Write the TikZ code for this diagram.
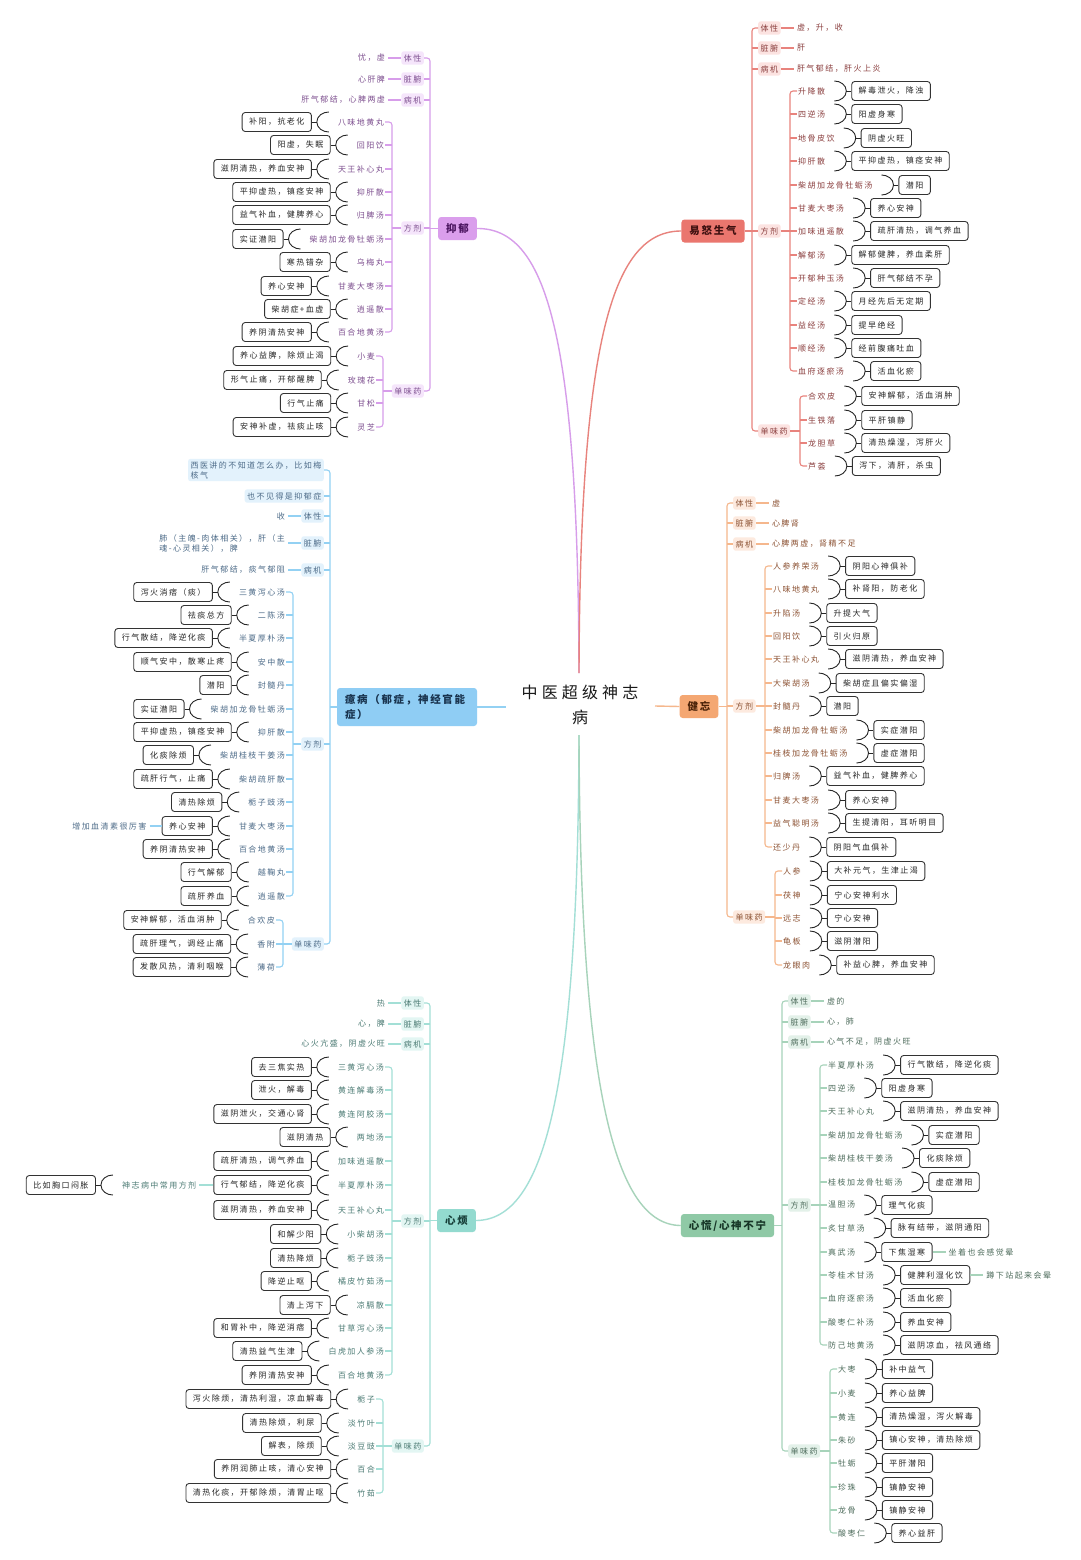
\documentclass[tikz,border=0pt]{standalone}
\usepackage{fontspec}
\setmainfont{Noto Sans CJK SC}
\newfontfamily\cjk[LetterSpace=18]{Noto Sans CJK SC}
\newfontfamily\cjkm[LetterSpace=16]{Noto Sans CJK SC}
\newfontfamily\cjkt[LetterSpace=26]{Noto Sans CJK SC}
% branch colours: L line, M main fill, F label fill, T text, D main text
\definecolor{aL}{HTML}{D79DEA}\definecolor{aM}{HTML}{DA9EEC}\definecolor{aF}{HTML}{F5E5FB}\definecolor{aT}{HTML}{7D4F8F}\definecolor{aD}{HTML}{4B1560}
\definecolor{bL}{HTML}{E8837D}\definecolor{bM}{HTML}{EA766E}\definecolor{bF}{HTML}{FCE3E1}\definecolor{bT}{HTML}{8A3E3E}\definecolor{bD}{HTML}{3D0F0F}
\definecolor{cL}{HTML}{93D1F3}\definecolor{cM}{HTML}{8FCDF4}\definecolor{cF}{HTML}{E3F2FC}\definecolor{cT}{HTML}{4D6B88}\definecolor{cD}{HTML}{18324D}
\definecolor{dL}{HTML}{F5B78D}\definecolor{dM}{HTML}{F4A772}\definecolor{dF}{HTML}{FDEADF}\definecolor{dT}{HTML}{8C5233}\definecolor{dD}{HTML}{4A2208}
\definecolor{eL}{HTML}{A3DFD6}\definecolor{eM}{HTML}{93DACF}\definecolor{eF}{HTML}{E3F6F3}\definecolor{eT}{HTML}{4C7B74}\definecolor{eD}{HTML}{173F39}
\definecolor{gL}{HTML}{A7D3BA}\definecolor{gM}{HTML}{8FC9A6}\definecolor{gF}{HTML}{E3F1E9}\definecolor{gT}{HTML}{4E6C5C}\definecolor{gD}{HTML}{163526}
\tikzset{
  sm/.style={font=\cjk\fontsize{8}{10}\selectfont},
  leaf/.style={sm, text=#1T, inner sep=1pt},
  lab/.style={sm, text=#1T, fill=#1F, rounded corners=2.5pt, inner xsep=2.5pt, inner ysep=3pt},
  ln/.style={draw=#1L, line width=1.1pt},
  desc/.style={sm, text=black!85, draw=black!80, line width=0.9pt, rounded corners=3pt, inner xsep=7pt, inner ysep=0pt, minimum height=19pt},
  brc/.style={draw=black!85, line width=0.9pt},
  mainb/.style={font=\cjkm\fontsize{10.5}{15}\selectfont\bfseries, text=#1D, fill=#1M, rounded corners=3pt, inner xsep=8pt, inner ysep=0pt, minimum height=23pt},
  ttl/.style={font=\cjkt\fontsize{16}{25}\selectfont, align=center, text=black!90},
}
\newcommand\attL[4]{%
  \draw[brc] ([xshift=-8pt,yshift=10pt]#3.west) to[out=180,in=90] ([xshift=-20pt]#3.west) coordinate (#2) to[out=-90,in=180] ([xshift=-8pt,yshift=-10pt]#3.west);
  \node[desc, anchor=east] (#1) at ([xshift=-25pt]#3.west) {#4};
  \draw[brc] (#1.east) -- (#2);}
\newcommand\attR[4]{%
  \draw[brc] ([xshift=8pt,yshift=10pt]#3.east) to[out=0,in=90] ([xshift=20pt]#3.east) coordinate (#2) to[out=-90,in=0] ([xshift=8pt,yshift=-10pt]#3.east);
  \node[desc, anchor=west] (#1) at ([xshift=25pt]#3.east) {#4};
  \draw[brc] (#2) -- (#1.west);}
\newcommand\rowL[7]{\node[leaf=#3, anchor=east] (#1f#2) at (#4,#5) {#6};\attL{#1d#2}{#1t#2}{#1f#2}{#7}}
\newcommand\rowR[7]{\node[leaf=#3, anchor=west] (#1f#2) at (#4,#5) {#6};\attR{#1d#2}{#1t#2}{#1f#2}{#7}}
\newcommand\attrL[4]{\node[leaf=#1, anchor=east] (#3) at ([xshift=-15pt]#2.west) {#4};\draw[ln=#1, shorten <=2pt] (#3.east) -- (#2.west);}
\newcommand\attrR[4]{\node[leaf=#1, anchor=west] (#3) at ([xshift=15pt]#2.east) {#4};\draw[ln=#1, shorten >=2pt] (#2.east) -- (#3.west);}
\newcommand\spine[5]{%
  \draw[ln=#1, rounded corners=3pt] (#3) -- (#3 -| #2) -- (#4 -| #2) -- (#4);
  \draw[ln=#1] (#5) -- (#5 -| #2);}
\begin{document}
\begin{tikzpicture}[x=1pt,y=-1pt]
\fill[white] (0,0) rectangle (1080,1560);
\useasboundingbox (0,0) rectangle (1080,1560);
% ---------------- centre
\node[ttl] (T) at (580,705) {中医超级神志\\病};
\coordinate (cTop) at (579,673);
\coordinate (cBot) at (579,735);
\coordinate (cLft) at (506,707);
\coordinate (cRgt) at (655,706);

% ================= A 抑郁
\node[mainb=a] (aM) at (457.5,228.5) {抑郁};
\draw[ln=a, line width=1.4pt] (aM.east) .. controls (545,228) and (578,330) .. (cTop);
\coordinate (aS0) at (430,0);
\node[lab=a, anchor=east] (aL1) at (424,58) {体性};
\node[lab=a, anchor=east] (aL2) at (424,79) {脏腑};
\node[lab=a, anchor=east] (aL3) at (424,100) {病机};
\node[lab=a, anchor=east] (aL4) at (424,228) {方剂};
\node[lab=a, anchor=east] (aL5) at (424,391) {单味药};
\attrL{a}{aL1}{aA1}{忧，虚}
\attrL{a}{aL2}{aA2}{心肝脾}
\attrL{a}{aL3}{aA3}{肝气郁结，心脾两虚}
\spine{a}{aS0}{aL1.east}{aL5.east}{aM.west}
\foreach \n in {aL2,aL3,aL4} {\draw[ln=a] (\n.east -| aS0) -- (\n.east);}
\coordinate (aS1) at (392,0);
\foreach \y/\f/\d [count=\i] in {122/八味地黄丸/补阳，抗老化,145/回阳饮/阳虚，失眠,169/天王补心丸/滋阴清热，养血安神,192/抑肝散/平抑虚热，镇痉安神,215/归脾汤/益气补血，健脾养心,239/柴胡加龙骨牡蛎汤/实证潜阳,262/乌梅丸/寒热错杂,286/甘麦大枣汤/养心安神,309/逍遥散/柴胡症+血虚,332/百合地黄汤/养阴清热安神}
  {\rowL{a}{\i}{a}{385}{\y}{\f}{\d}}
\spine{a}{aS1}{af1.east}{af10.east}{aL4.west}
\foreach \i in {2,...,9} {\draw[ln=a] (af\i.east -| aS1) -- (af\i.east);}
\coordinate (aS2) at (383,0);
\foreach \y/\f/\d [count=\i] in {356/小麦/养心益脾，除烦止渴,380/玫瑰花/形气止痛，开郁醒脾,403/甘松/行气止痛,427/灵芝/安神补虚，祛痰止咳}
  {\rowL{ah}{\i}{a}{376}{\y}{\f}{\d}}
\spine{a}{aS2}{ahf1.east}{ahf4.east}{aL5.west}
\foreach \i in {2,3} {\draw[ln=a] (ahf\i.east -| aS2) -- (ahf\i.east);}

% ================= B 易怒生气
\node[mainb=b] (bM) at (713,231) {易怒生气};
\draw[ln=b, line width=1.4pt] (bM.west) .. controls (615,231) and (580,330) .. (cTop);
\coordinate (bS0) at (752,0);
\node[lab=b, anchor=west] (bL1) at (758,28) {体性};
\node[lab=b, anchor=west] (bL2) at (758,48) {脏腑};
\node[lab=b, anchor=west] (bL3) at (758,69) {病机};
\node[lab=b, anchor=west] (bL4) at (758,231) {方剂};
\node[lab=b, anchor=west] (bL5) at (758,431) {单味药};
\attrR{b}{bL1}{bA1}{虚，升，收}
\attrR{b}{bL2}{bA2}{肝}
\attrR{b}{bL3}{bA3}{肝气郁结，肝火上炎}
\spine{b}{bS0}{bL1.west}{bL5.west}{bM.east}
\foreach \n in {bL2,bL3,bL4} {\draw[ln=b] (\n.west -| bS0) -- (\n.west);}
\coordinate (bS1) at (790,0);
\foreach \y/\f/\d [count=\i] in {91/升降散/解毒泄火，降浊,114/四逆汤/阳虚身寒,138/地骨皮饮/阴虚火旺,161/抑肝散/平抑虚热，镇痉安神,185/柴胡加龙骨牡蛎汤/潜阳,208/甘麦大枣汤/养心安神,231/加味逍遥散/疏肝清热，调气养血,255/解郁汤/解郁健脾，养血柔肝,278/开郁种玉汤/肝气郁结不孕,301/定经汤/月经先后无定期,325/益经汤/提早绝经,348/顺经汤/经前腹痛吐血,371/血府逐瘀汤/活血化瘀}
  {\rowR{b}{\i}{b}{797}{\y}{\f}{\d}}
\spine{b}{bS1}{bf1.west}{bf13.west}{bL4.east}
\foreach \i in {2,...,12} {\draw[ln=b] (bf\i.west -| bS1) -- (bf\i.west);}
\coordinate (bS2) at (800,0);
\foreach \y/\f/\d [count=\i] in {396/合欢皮/安神解郁，活血消肿,420/生铁落/平肝镇静,443/龙胆草/清热燥湿，泻肝火,466/芦荟/泻下，清肝，杀虫}
  {\rowR{bh}{\i}{b}{807}{\y}{\f}{\d}}
\spine{b}{bS2}{bhf1.west}{bhf4.west}{bL5.east}
\foreach \i in {2,3} {\draw[ln=b] (bhf\i.west -| bS2) -- (bhf\i.west);}

% ================= C 癔病
\node[mainb=c, text width=124pt, align=left, minimum height=38pt] (cM) at (407,707) {癔病（郁症，神经官能\\症）};
\draw[ln=c, line width=1.4pt] (cM.east) -- (cLft);
\coordinate (cS0) at (330,0);
\node[lab=c, anchor=east, align=left, inner ysep=2.5pt] (cL0) at (324,470) {西医讲的不知道怎么办，比如梅\\核气};
\node[lab=c, anchor=east] (cLa) at (324,496) {也不见得是抑郁症};
\node[lab=c, anchor=east] (cL1) at (324,516) {体性};
\node[lab=c, anchor=east] (cL2) at (324,543) {脏腑};
\node[lab=c, anchor=east] (cL3) at (324,570) {病机};
\node[lab=c, anchor=east] (cL4) at (324,744) {方剂};
\node[lab=c, anchor=east] (cL5) at (324,944) {单味药};
\attrL{c}{cL1}{cA1}{收}
\node[leaf=c, anchor=east, align=left] (cA2) at ([xshift=-15pt]cL2.west) {肺（主魄-肉体相关），肝（主\\魂-心灵相关），脾};
\draw[ln=c, shorten <=2pt] (cA2.east) -- (cL2.west);
\attrL{c}{cL3}{cA3}{肝气郁结，痰气郁阻}
\spine{c}{cS0}{cL0.east}{cL5.east}{cM.west}
\foreach \n in {cLa,cL1,cL2,cL3,cL4} {\draw[ln=c] (\n.east -| cS0) -- (\n.east);}
\coordinate (cS1) at (293,0);
\foreach \y/\f/\d [count=\i] in {592/三黄泻心汤/泻火消痞（痰）,615/二陈汤/祛痰总方,638/半夏厚朴汤/行气散结，降逆化痰,662/安中散/顺气安中，散寒止疼,685/封髓丹/潜阳,709/柴胡加龙骨牡蛎汤/实证潜阳,732/抑肝散/平抑虚热，镇痉安神,755/柴胡桂枝干姜汤/化痰除烦,779/柴胡疏肝散/疏肝行气，止痛,802/栀子豉汤/清热除烦,826/甘麦大枣汤/养心安神,849/百合地黄汤/养阴清热安神,872/越鞠丸/行气解郁,896/逍遥散/疏肝养血}
  {\rowL{c}{\i}{c}{286}{\y}{\f}{\d}}
\spine{c}{cS1}{cf1.east}{cf14.east}{cL4.west}
\foreach \i in {2,...,13} {\draw[ln=c] (cf\i.east -| cS1) -- (cf\i.east);}
\node[leaf=c, anchor=east] (cX) at ([xshift=-14pt]cd11.west) {增加血清素很厉害};
\draw[ln=c, shorten <=2pt] (cX.east) -- (cd11.west);
\coordinate (cS2) at (283,0);
\foreach \y/\f/\d [count=\i] in {920/合欢皮/安神解郁，活血消肿,944/香附/疏肝理气，调经止痛,967/薄荷/发散风热，清利咽喉}
  {\rowL{ch}{\i}{c}{276}{\y}{\f}{\d}}
\spine{c}{cS2}{chf1.east}{chf3.east}{cL5.west}
\draw[ln=c] (chf2.east -| cS2) -- (chf2.east);

% ================= D 健忘
\node[mainb=d] (dM) at (699,706.5) {健忘};
\draw[ln=d, line width=1.4pt] (cRgt) -- (dM.west);
\coordinate (dS0) at (727,0);
\node[lab=d, anchor=west] (dL1) at (733,503) {体性};
\node[lab=d, anchor=west] (dL2) at (733,523) {脏腑};
\node[lab=d, anchor=west] (dL3) at (733,544) {病机};
\node[lab=d, anchor=west] (dL4) at (733,706) {方剂};
\node[lab=d, anchor=west] (dL5) at (733,917) {单味药};
\attrR{d}{dL1}{dA1}{虚}
\attrR{d}{dL2}{dA2}{心脾肾}
\attrR{d}{dL3}{dA3}{心脾两虚，肾精不足}
\spine{d}{dS0}{dL1.west}{dL5.west}{dM.east}
\foreach \n in {dL2,dL3,dL4} {\draw[ln=d] (\n.west -| dS0) -- (\n.west);}
\coordinate (dS1) at (765,0);
\foreach \y/\f/\d [count=\i] in {566/人参养荣汤/阴阳心神俱补,589/八味地黄丸/补肾阳，防老化,613/升陷汤/升提大气,636/回阳饮/引火归原,659/天王补心丸/滋阴清热，养血安神,683/大柴胡汤/柴胡症且偏实偏湿,706/封髓丹/潜阳,730/柴胡加龙骨牡蛎汤/实症潜阳,753/桂枝加龙骨牡蛎汤/虚症潜阳,776/归脾汤/益气补血，健脾养心,800/甘麦大枣汤/养心安神,823/益气聪明汤/生提清阳，耳听明目,847/还少丹/阴阳气血俱补}
  {\rowR{d}{\i}{d}{772}{\y}{\f}{\d}}
\spine{d}{dS1}{df1.west}{df13.west}{dL4.east}
\foreach \i in {2,...,12} {\draw[ln=d] (df\i.west -| dS1) -- (df\i.west);}
\coordinate (dS2) at (775,0);
\foreach \y/\f/\d [count=\i] in {871/人参/大补元气，生津止渴,895/茯神/宁心安神利水,918/远志/宁心安神,941/龟板/滋阴潜阳,965/龙眼肉/补益心脾，养血安神}
  {\rowR{dh}{\i}{d}{782}{\y}{\f}{\d}}
\spine{d}{dS2}{dhf1.west}{dhf5.west}{dL5.east}
\foreach \i in {2,3,4} {\draw[ln=d] (dhf\i.west -| dS2) -- (dhf\i.west);}

% ================= E 心烦
\node[mainb=e] (eM) at (456.5,1220.5) {心烦};
\draw[ln=e, line width=1.4pt] (eM.east) .. controls (545,1220) and (578,1090) .. (cBot);
\coordinate (eS0) at (430,0);
\node[lab=e, anchor=east] (eL1) at (424,1003) {体性};
\node[lab=e, anchor=east] (eL2) at (424,1024) {脏腑};
\node[lab=e, anchor=east] (eL3) at (424,1044) {病机};
\node[lab=e, anchor=east] (eL4) at (424,1221) {方剂};
\node[lab=e, anchor=east] (eL5) at (424,1446) {单味药};
\attrL{e}{eL1}{eA1}{热}
\attrL{e}{eL2}{eA2}{心，脾}
\attrL{e}{eL3}{eA3}{心火亢盛，阴虚火旺}
\spine{e}{eS0}{eL1.east}{eL5.east}{eM.west}
\foreach \n in {eL2,eL3,eL4} {\draw[ln=e] (\n.east -| eS0) -- (\n.east);}
\coordinate (eS1) at (392,0);
\foreach \y/\f/\d [count=\i] in {1067/三黄泻心汤/去三焦实热,1090/黄连解毒汤/泄火，解毒,1114/黄连阿胶汤/滋阴泄火，交通心肾,1137/两地汤/滋阴清热,1161/加味逍遥散/疏肝清热，调气养血,1185/半夏厚朴汤/行气郁结，降逆化痰,1210/天王补心丸/滋阴清热，养血安神,1234/小柴胡汤/和解少阳,1258/栀子豉汤/清热降烦,1281/橘皮竹茹汤/降逆止呕,1305/凉膈散/清上泻下,1328/甘草泻心汤/和胃补中，降逆消痞,1351/白虎加人参汤/清热益气生津,1375/百合地黄汤/养阴清热安神}
  {\rowL{e}{\i}{e}{385}{\y}{\f}{\d}}
\spine{e}{eS1}{ef1.east}{ef14.east}{eL4.west}
\foreach \i in {2,...,13} {\draw[ln=e] (ef\i.east -| eS1) -- (ef\i.east);}
\node[leaf=e, anchor=east] (eX) at ([xshift=-16pt]ed6.west) {神志病中常用方剂};
\draw[ln=e, shorten <=2pt] (eX.east) -- (ed6.west);
\attL{eXd}{eXt}{eX}{比如胸口闷胀}
\coordinate (eS2) at (383,0);
\foreach \y/\f/\d [count=\i] in {1399/栀子/泻火除烦，清热利湿，凉血解毒,1423/淡竹叶/清热除烦，利尿,1446/淡豆豉/解表，除烦,1469/百合/养阴润肺止咳，清心安神,1493/竹茹/清热化痰，开郁除烦，清胃止呕}
  {\rowL{eh}{\i}{e}{376}{\y}{\f}{\d}}
\spine{e}{eS2}{ehf1.east}{ehf5.east}{eL5.west}
\foreach \i in {2,3,4} {\draw[ln=e] (ehf\i.east -| eS2) -- (ehf\i.east);}

% ================= G 心慌/心神不宁
\node[mainb=g] (gM) at (727.5,1225.5) {心慌/心神不宁};
\draw[ln=g, line width=1.4pt] (gM.west) .. controls (615,1225) and (580,1090) .. (cBot);
\coordinate (gS0) at (782,0);
\node[lab=g, anchor=west] (gL1) at (788,1001) {体性};
\node[lab=g, anchor=west] (gL2) at (788,1022) {脏腑};
\node[lab=g, anchor=west] (gL3) at (788,1042) {病机};
\node[lab=g, anchor=west] (gL4) at (788,1205) {方剂};
\node[lab=g, anchor=west] (gL5) at (788,1451) {单味药};
\attrR{g}{gL1}{gA1}{虚的}
\attrR{g}{gL2}{gA2}{心，肺}
\attrR{g}{gL3}{gA3}{心气不足，阴虚火旺}
\spine{g}{gS0}{gL1.west}{gL5.west}{gM.east}
\foreach \n in {gL2,gL3,gL4} {\draw[ln=g] (\n.west -| gS0) -- (\n.west);}
\coordinate (gS1) at (820,0);
\foreach \y/\f/\d [count=\i] in {1065/半夏厚朴汤/行气散结，降逆化痰,1088/四逆汤/阳虚身寒,1111/天王补心丸/滋阴清热，养血安神,1135/柴胡加龙骨牡蛎汤/实症潜阳,1158/柴胡桂枝干姜汤/化痰除烦,1182/桂枝加龙骨牡蛎汤/虚症潜阳,1205/温胆汤/理气化痰,1228/炙甘草汤/脉有结带，滋阴通阳,1252/真武汤/下焦湿寒,1275/苓桂术甘汤/健脾利湿化饮,1298/血府逐瘀汤/活血化瘀,1322/酸枣仁补汤/养血安神,1345/防己地黄汤/滋阴凉血，祛风通络}
  {\rowR{g}{\i}{g}{827}{\y}{\f}{\d}}
\spine{g}{gS1}{gf1.west}{gf13.west}{gL4.east}
\foreach \i in {2,...,12} {\draw[ln=g] (gf\i.west -| gS1) -- (gf\i.west);}
\node[leaf=g, anchor=west] (gX1) at ([xshift=15pt]gd9.east) {坐着也会感觉晕};
\draw[ln=g, shorten >=2pt] (gd9.east) -- (gX1.west);
\node[leaf=g, anchor=west] (gX2) at ([xshift=15pt]gd10.east) {蹲下站起来会晕};
\draw[ln=g, shorten >=2pt] (gd10.east) -- (gX2.west);
\coordinate (gS2) at (830,0);
\foreach \y/\f/\d [count=\i] in {1369/大枣/补中益气,1393/小麦/养心益脾,1417/黄连/清热燥湿，泻火解毒,1440/朱砂/镇心安神，清热除烦,1463/牡蛎/平肝潜阳,1487/珍珠/镇静安神,1510/龙骨/镇静安神,1533/酸枣仁/养心益肝}
  {\rowR{gh}{\i}{g}{837}{\y}{\f}{\d}}
\spine{g}{gS2}{ghf1.west}{ghf8.west}{gL5.east}
\foreach \i in {2,...,7} {\draw[ln=g] (ghf\i.west -| gS2) -- (ghf\i.west);}
\end{tikzpicture}
\end{document}
